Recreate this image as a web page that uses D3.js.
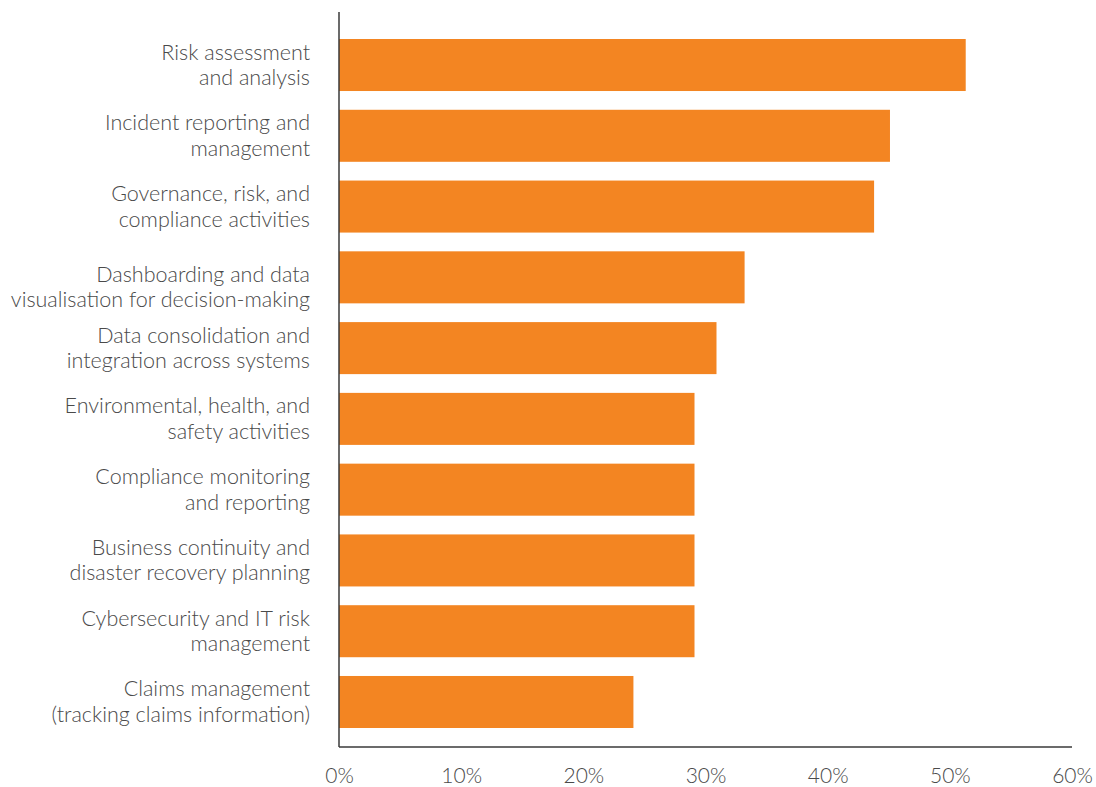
<!DOCTYPE html>
<html>
<head>
<meta charset="utf-8">
<script src="https://cdn.jsdelivr.net/npm/d3@7"></script>
<style>
  html, body { margin: 0; padding: 0; background: #fff; }
  svg { display: block; }
  text { font-family: Lato, "Open Sans", sans-serif; font-weight: 300; }
</style>
</head>
<body>
<svg id="chart" width="1096" height="787"></svg>
<script>
// Share of respondents using each capability
const categories = [
  ["Risk assessment", "and analysis"],
  ["Incident reporting and", "management"],
  ["Governance, risk, and", "compliance activities"],
  ["Dashboarding and data", "visualisation for decision-making"],
  ["Data consolidation and", "integration across systems"],
  ["Environmental, health, and", "safety activities"],
  ["Compliance monitoring", "and reporting"],
  ["Business continuity and", "disaster recovery planning"],
  ["Cybersecurity and IT risk", "management"],
  ["Claims management", "(tracking claims information)"]
];
const values = [51.3, 45.1, 43.8, 33.2, 30.9, 29.1, 29.1, 29.1, 29.1, 24.1];
const xTicks = [0, 10, 20, 30, 40, 50, 60];

const svg = d3.select("#chart");
const left = 339, right = 1072, axisTop = 12, axisBottom = 747;
const textColor = "#4a4a4a";

const x = d3.scaleLinear().domain([0, 60]).range([left, right]);
const y = d3.scaleBand()
  .domain(d3.range(categories.length))
  .range([39, 728])
  .paddingInner(0.265)
  .paddingOuter(0);

// bars
svg.append("g")
  .selectAll("rect")
  .data(values)
  .join("rect")
  .attr("x", x(0))
  .attr("y", (d, i) => y(i))
  .attr("width", d => x(d) - x(0))
  .attr("height", y.bandwidth())
  .attr("fill", "#F38522");

// category labels (two lines each); the long dashboarding label sits a little lower
const labelShift = i => (i === 3 ? 10 : 0);
const labels = svg.append("g")
  .selectAll("text")
  .data(categories)
  .join("text")
  .attr("x", 310)
  .attr("y", (d, i) => y(i) + y.bandwidth() / 2 + labelShift(i))
  .attr("text-anchor", "end")
  .attr("font-size", 21.5)
  .attr("fill", textColor);
labels.selectAll("tspan")
  .data(d => d)
  .join("tspan")
  .attr("x", 310)
  .attr("dy", (d, j) => j === 0 ? -5.5 : 25.5)
  .text(d => d);

// x axis
const xAxis = d3.axisBottom(x)
  .tickValues(xTicks)
  .tickFormat(d => d + "%")
  .tickSize(0)
  .tickPadding(21);
const gx = svg.append("g")
  .attr("transform", `translate(0,${axisBottom})`)
  .call(xAxis);
gx.select(".domain").remove();
gx.selectAll("text")
  .attr("font-family", "Lato, sans-serif")
  .attr("font-size", 21)
  .attr("font-weight", 300)
  .attr("fill", textColor);

// axis lines
svg.append("line")
  .attr("x1", left).attr("x2", left)
  .attr("y1", axisTop).attr("y2", axisBottom)
  .attr("stroke", "#3a3a3a").attr("stroke-width", 1.5);
svg.append("line")
  .attr("x1", left).attr("x2", right)
  .attr("y1", axisBottom).attr("y2", axisBottom)
  .attr("stroke", "#3a3a3a").attr("stroke-width", 1.5);
</script>
</body>
</html>
